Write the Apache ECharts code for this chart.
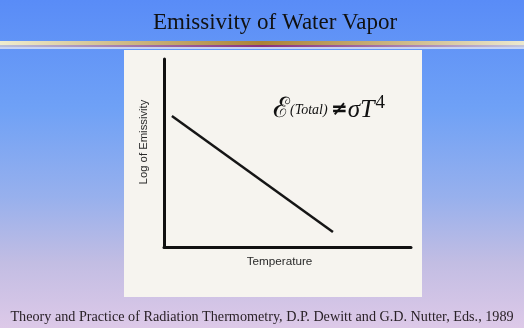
<!DOCTYPE html>
<html>
<head>
<meta charset="utf-8">
<script src="https://cdn.jsdelivr.net/npm/echarts@6/dist/echarts.min.js"></script>
<style>
html,body{margin:0;padding:0;width:524px;height:328px;overflow:hidden;}
#chart{width:524px;height:328px;}
</style>
</head>
<body>
<div id="chart"></div>
<script>
// Data (axis units 0-100, schematic)
var temperature = [3.2, 68.4];
var logEmissivity = [69.7, 8.0];
var titleText = 'Emissivity of Water Vapor';
var xName = 'Temperature';
var yName = 'Log of Emissivity';
var caption = 'Theory and Practice of Radiation Thermometry, D.P. Dewitt and G.D. Nutter, Eds., 1989';

var points = temperature.map(function (t, i) { return [t, logEmissivity[i]]; });

var chart = echarts.init(document.getElementById('chart'), null, {renderer: 'canvas'});
chart.setOption({
  animation: false,
  backgroundColor: {
    type: 'linear', x: 0, y: 0, x2: 0, y2: 1,
    colorStops: [
      {offset: 0, color: '#598cf7'},
      {offset: 0.33, color: '#6fa1f6'},
      {offset: 0.6, color: '#97b0ed'},
      {offset: 0.8, color: '#c2bde3'},
      {offset: 1, color: '#ddc9e8'}
    ]
  },
  graphic: [
    {type: 'rect', z: -10, shape: {x: 0, y: 41, width: 524, height: 4},
     style: {fill: {type: 'linear', x: 0, y: 0, x2: 1, y2: 0, colorStops: [
       {offset: 0, color: '#efedcf'}, {offset: 0.5, color: '#ab8238'}, {offset: 1, color: '#ebe8cf'}]}}},
    {type: 'rect', z: -10, shape: {x: 0, y: 45, width: 524, height: 2},
     style: {fill: {type: 'linear', x: 0, y: 0, x2: 1, y2: 0, colorStops: [
       {offset: 0, color: '#b8c0da'}, {offset: 0.5, color: '#8a2f7e'}, {offset: 1, color: '#c0c4dc'}]}}},
    {type: 'rect', z: -10, shape: {x: 0, y: 47, width: 524, height: 2},
     style: {fill: '#dfe2f2', opacity: 0.8}},
    {type: 'rect', z: -5, shape: {x: 124, y: 50, width: 298, height: 247},
     style: {fill: '#f6f4ef'}},
    {type: 'text', x: 275, y: 23,
     style: {text: titleText, font: '23px "Liberation Serif"', fill: '#111',
             textAlign: 'center', textVerticalAlign: 'middle'}},
    {type: 'text', x: 262, y: 317, scaleX: 0.945,
     style: {text: caption, font: '15px "Liberation Serif"', fill: '#2a2228',
             textAlign: 'center', textVerticalAlign: 'middle'}},
    {type: 'text', x: 273, y: 110,
     style: {
       text: '{e|ℰ}{t|(Total)} {ne|≠}{s|σ}{T|T}{sup|4}',
       textVerticalAlign: 'middle',
       rich: {
         e: {font: '28px "DejaVu Serif"', fill: '#111'},
         t: {font: 'italic 14px "Liberation Serif"', fill: '#111'},
         ne: {font: 'bold 20px "DejaVu Sans"', fill: '#111'},
         s: {font: 'italic 25px "Liberation Serif"', fill: '#111'},
         T: {font: 'italic 26px "Liberation Serif"', fill: '#111'},
         sup: {font: '19px "Liberation Serif"', fill: '#111', padding: [0, 0, 13, 1]}
       }
     }}
  ],
  grid: {left: 164, top: 59, right: 113, bottom: 81},
  xAxis: {
    type: 'value', min: 0, max: 100,
    name: xName, nameLocation: 'middle', nameGap: 9,
    nameTextStyle: {fontFamily: 'Liberation Sans', fontSize: 11.7, color: '#2a2a2a', padding: [0, 16, 0, 0]},
    axisLine: {show: true, lineStyle: {color: '#111', width: 3}},
    axisTick: {show: false}, axisLabel: {show: false}, splitLine: {show: false}
  },
  yAxis: {
    type: 'value', min: 0, max: 100,
    name: yName, nameLocation: 'middle', nameGap: 15,
    nameTextStyle: {fontFamily: 'Liberation Sans', fontSize: 11.3, color: '#2a2a2a', padding: [0, 0, 0, 22]},
    axisLine: {show: true, lineStyle: {color: '#111', width: 3}},
    axisTick: {show: false}, axisLabel: {show: false}, splitLine: {show: false}
  },
  series: [{
    type: 'line', data: points, symbol: 'none',
    lineStyle: {color: '#151515', width: 2.5}
  }]
});
</script>
</body>
</html>
